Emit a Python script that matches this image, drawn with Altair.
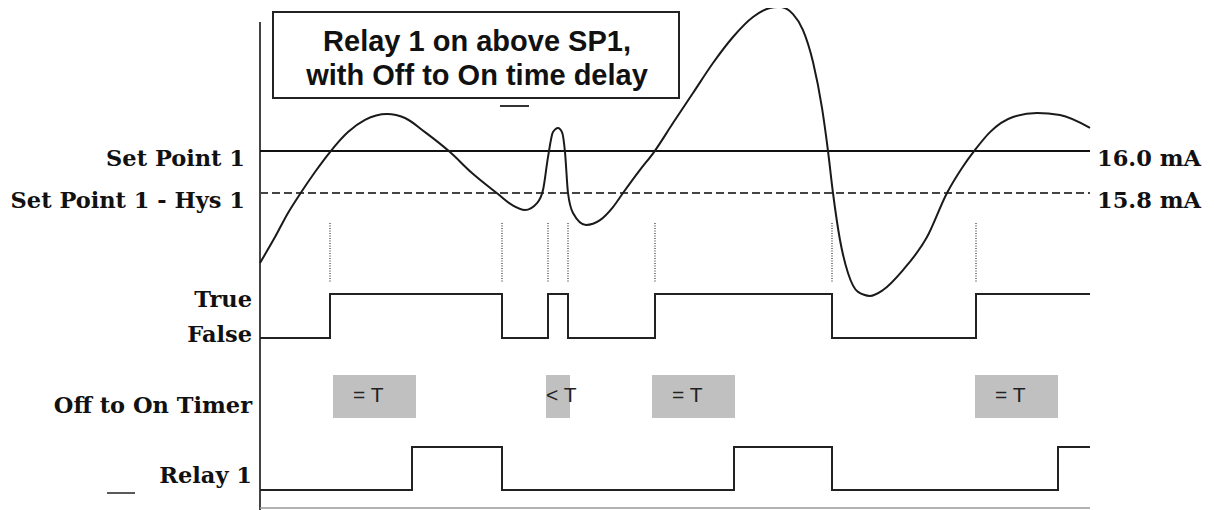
import altair as alt
import pandas as pd

# ---------------- data ----------------
# analog input signal: time (arbitrary units) and current (mA)
SIGNAL_T = [0, 15, 28, 40, 55, 70, 88, 105, 127, 145, 165, 190, 212, 238, 252, 265,
            277, 283, 288, 293, 298, 302, 305, 308, 313, 326, 340, 353, 363, 380, 394,
            413, 433, 453, 473, 493, 510, 520, 533, 543, 553, 562, 568, 573, 580, 588,
            598, 610, 623, 643, 667, 687, 702, 715, 730, 753, 777, 800, 830]
SIGNAL_MA = [15.467, 15.590, 15.705, 15.795, 15.900, 15.995, 16.090, 16.148, 16.176,
             16.157, 16.090, 15.995, 15.895, 15.795, 15.743, 15.719, 15.752, 15.814,
             15.971, 16.090, 16.110, 16.090, 15.995, 15.800, 15.705, 15.648, 15.671,
             15.733, 15.800, 15.910, 15.995, 16.133, 16.276, 16.419, 16.543, 16.638,
             16.681, 16.686, 16.652, 16.576, 16.424, 16.205, 16.000, 15.800, 15.576,
             15.419, 15.329, 15.310, 15.338, 15.433, 15.590, 15.800, 15.919, 16.005,
             16.090, 16.162, 16.181, 16.171, 16.110]

SETPOINT_MA = [16.0, 15.8]
SETPOINT_NAME = ["Set Point 1", "Set Point 1 - Hys 1"]
SETPOINT_TEXT = ["16.0 mA", "15.8 mA"]

# comparator state (True/False)
CMP_T = [0, 70, 242, 288, 308, 395, 572, 716, 830]
CMP_STATE = [0, 1, 0, 1, 0, 1, 0, 1, 1]

# edges marked by dotted lines
EDGE_T = [70, 242, 288, 308, 395, 572, 716]

# off-to-on timer windows
TIMER_START = [73, 286, 392, 715]
TIMER_END = [156, 310, 475, 798]
TIMER_TEXT = ["= T", "< T", "= T", "= T"]

# relay output
RELAY_T = [0, 152, 242, 474, 572, 798, 830]
RELAY_STATE = [0, 1, 0, 1, 0, 1, 1]

TITLE_LINES = ["Relay 1 on above SP1,", "with Off to On time delay"]
LANE_LABELS = ["True", "False", "Off to On Timer", "Relay 1"]

# ---------------- tables ----------------
sig = pd.DataFrame({"t": SIGNAL_T, "mA": SIGNAL_MA})
sp = pd.DataFrame({"mA": SETPOINT_MA, "name": SETPOINT_NAME, "txt": SETPOINT_TEXT})
cmp_df = pd.DataFrame({"t": CMP_T, "s": CMP_STATE})
edges = pd.DataFrame({"t": EDGE_T})
timer = pd.DataFrame({"t0": TIMER_START, "t1": TIMER_END, "txt": TIMER_TEXT})
relay = pd.DataFrame({"t": RELAY_T, "s": RELAY_STATE})

# ---------------- scales / layout ----------------
xs = alt.Scale(domain=[0, 830], range=[252, 1082], nice=False, zero=False)
ma_s = alt.Scale(domain=[15.8, 16.0], range=[185, 143], nice=False, zero=False)
cmp_s = alt.Scale(domain=[0, 1], range=[330, 286], nice=False)
rel_s = alt.Scale(domain=[0, 1], range=[482, 439], nice=False)

SERIF = "DejaVu Serif"
LBL = 22.5
INK = "#1a1a1a"

X = lambda f: alt.X(f, type="quantitative", scale=xs, axis=None)
one = pd.DataFrame({"k": [0]})

layers = []

# title box
layers.append(alt.Chart(one).mark_rect(
    fill="white", stroke="#222", strokeWidth=2).encode(
    x=alt.value(265), x2=alt.value(671), y=alt.value(4), y2=alt.value(90)))
for i, line in enumerate(TITLE_LINES):
    layers.append(alt.Chart(one).mark_text(
        text=line, font="Liberation Sans", fontWeight="bold", fontSize=29,
        align="center", baseline="alphabetic", color="#111").encode(
        x=alt.value(469), y=alt.value(43 + 34 * i)))
# small mark under the box
layers.append(alt.Chart(one).mark_rule(
    color="#333", strokeWidth=2).encode(
    x=alt.value(492), x2=alt.value(521), y=alt.value(98)))

# vertical axis and bottom line
layers.append(alt.Chart(one).mark_rule(
    color="#444", strokeWidth=2).encode(
    x=alt.value(252), y=alt.value(14), y2=alt.value(502)))
layers.append(alt.Chart(one).mark_rule(
    color="#999", strokeWidth=1.5).encode(
    x=alt.value(252), x2=alt.value(1082), y=alt.value(500)))

# set point lines
layers.append(alt.Chart(sp.iloc[[0]]).mark_rule(color="#111", strokeWidth=2).encode(
    y=alt.Y("mA:Q", scale=ma_s, axis=None), x=alt.value(252), x2=alt.value(1082)))
layers.append(alt.Chart(sp.iloc[[1]]).mark_rule(
    color="#444", strokeWidth=2, strokeDash=[8, 4]).encode(
    y=alt.Y("mA:Q", scale=ma_s, axis=None), x=alt.value(252), x2=alt.value(1082)))
# set point labels
layers.append(alt.Chart(sp).mark_text(
    font=SERIF, fontWeight="bold", fontSize=LBL, align="right",
    baseline="alphabetic", dy=15, color="#111").encode(
    y=alt.Y("mA:Q", scale=ma_s, axis=None), x=alt.value(237), text="name:N"))
layers.append(alt.Chart(sp).mark_text(
    font=SERIF, fontWeight="bold", fontSize=LBL, align="left",
    baseline="alphabetic", dy=15, color="#111").encode(
    y=alt.Y("mA:Q", scale=ma_s, axis=None), x=alt.value(1089), text="txt:N"))

# analog signal
layers.append(alt.Chart(sig).mark_line(
    interpolate="monotone", color=INK, strokeWidth=2).encode(
    x=X("t"), y=alt.Y("mA:Q", scale=ma_s, axis=None)))

# dotted edge markers
layers.append(alt.Chart(edges).mark_rule(
    color="#333", strokeWidth=1.2, strokeDash=[1, 1.5]).encode(
    x=X("t"), y=alt.value(215), y2=alt.value(274)))

# comparator
layers.append(alt.Chart(cmp_df).mark_line(
    interpolate="step-after", color="#222", strokeWidth=2).encode(
    x=X("t"), y=alt.Y("s:Q", scale=cmp_s, axis=None)))

# timer windows
layers.append(alt.Chart(timer).mark_rect(fill="#c0c0c0").encode(
    x=X("t0"), x2="t1", y=alt.value(367), y2=alt.value(410)))
layers.append(alt.Chart(timer).transform_filter("datum.txt == '= T'").mark_text(
    font="Liberation Sans", fontSize=21, align="left", baseline="middle",
    dx=20, color="#222").encode(x=X("t0"), y=alt.value(388), text="txt:N"))
layers.append(alt.Chart(timer).transform_filter("datum.txt != '= T'").mark_text(
    font="Liberation Sans", fontSize=21, align="left", baseline="middle",
    dx=0, color="#222").encode(x=X("t0"), y=alt.value(388), text="txt:N"))

# relay
layers.append(alt.Chart(relay).mark_line(
    interpolate="step-after", color="#222", strokeWidth=2).encode(
    x=X("t"), y=alt.Y("s:Q", scale=rel_s, axis=None)))

# lane labels
LANE_Y = [299, 334, 405, 475]
for lab, yy in zip(LANE_LABELS, LANE_Y):
    layers.append(alt.Chart(one).mark_text(
        text=lab, font=SERIF, fontWeight="bold", fontSize=LBL, align="right",
        baseline="alphabetic", color="#111").encode(
        x=alt.value(244), y=alt.value(yy)))
# short dash left of Relay 1
layers.append(alt.Chart(one).mark_rule(
    color="#222", strokeWidth=1.5).encode(
    x=alt.value(99), x2=alt.value(127), y=alt.value(485)))

chart = alt.layer(*layers).resolve_scale(y="independent").properties(
    width=1198, height=502, padding=0, autosize=alt.AutoSizeParams(type="none"),
    background="white"
).configure_view(stroke=None)

chart.save("out.html", embed_options={"renderer": "svg", "actions": False})
